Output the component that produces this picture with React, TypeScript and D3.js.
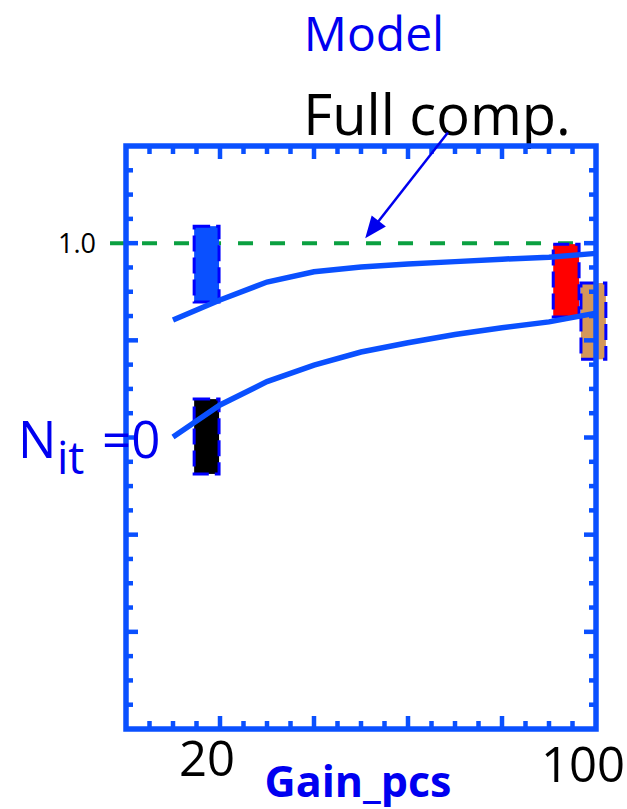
import React from "react";
import * as d3 from "d3";

// model curves, Gain_pcs on x
const gainPts = [10, 20, 30, 40, 50, 60, 70, 80, 90, 100];
const upperCurve = [0.842, 0.883, 0.92, 0.941, 0.951, 0.957, 0.962, 0.967, 0.971, 0.979];
const lowerCurve = [0.601, 0.667, 0.715, 0.749, 0.776, 0.795, 0.812, 0.826, 0.838, 0.856];

// measured ranges drawn as boxes
const boxX0 = [14.5, 14.5, 90.9, 96.8];
const boxX1 = [19.8, 19.8, 96.4, 102.1];
const boxLo = [0.879, 0.525, 0.848, 0.761];
const boxHi = [1.035, 0.679, 0.998, 0.918];
const boxFill = ["#0a50ff", "#000000", "#ff0000", "#d4975a"];

const fullComp = 1.0;
const fullCompRange = [-3.4, 95.1];
const arrowFrom = [68.5, 1.228];
const arrowTo = [50.9, 1.01];

const xLabels = [20, 100];
const yLabels = [1.0];

const W = 627;
const H = 809;
const axisBlue = "#0a50ff";

export default function App() {
  const x = d3.scaleLinear().domain([0, 100]).range([126, 596]);
  const y = d3.scaleLinear().domain([0, 1.2]).range([729, 146]);

  const line = d3
    .line<number>()
    .x((_, i) => x(gainPts[i]))
    .y((d) => y(d));

  const xMinor = d3.range(5, 100, 5);
  const yMinor = d3.range(0.05, 1.2, 0.05);
  const isMajX = (v: number) => Math.abs(v % 20) < 1e-6;
  const isMajY = (v: number) => Math.round(v * 100) % 20 === 0;

  const [x0, x1] = x.range();
  const [y0, y1] = y.range();

  const ax = x(arrowFrom[0]);
  const ay = y(arrowFrom[1]);
  const bx = x(arrowTo[0]);
  const by = y(arrowTo[1]);
  const ang = Math.atan2(by - ay, bx - ax);
  const hl = 22;
  const hw = 9;
  const head = [
    [bx, by],
    [bx - hl * Math.cos(ang) + hw * Math.sin(ang), by - hl * Math.sin(ang) - hw * Math.cos(ang)],
    [bx - hl * Math.cos(ang) - hw * Math.sin(ang), by - hl * Math.sin(ang) + hw * Math.cos(ang)],
  ];

  return (
    <svg
      width={W}
      height={H}
      style={{ position: "absolute", left: 0, top: 0, background: "#fff" }}
      fontFamily="'Open Sans', sans-serif"
    >
      {/* titles */}
      <text x={374} y={51} fontSize={48} fill="#0000f0" textAnchor="middle">
        Model
      </text>
      <text x={437} y={135} fontSize={56} fill="#000" textAnchor="middle">
        Full comp.
      </text>

      {/* full compensation line */}
      <line
        x1={x(fullCompRange[0])}
        x2={x(fullCompRange[1])}
        y1={y(fullComp)}
        y2={y(fullComp)}
        stroke="#0aa040"
        strokeWidth={4}
        strokeDasharray="15 17"
      />

      {/* boxes */}
      {boxFill.map((c, i) => (
        <g key={i}>
          <rect
            x={x(boxX0[i])}
            width={x(boxX1[i]) - x(boxX0[i])}
            y={y(boxHi[i])}
            height={y(boxLo[i]) - y(boxHi[i])}
            fill={c}
          />
          <rect
            x={x(boxX0[i])}
            width={x(boxX1[i]) - x(boxX0[i])}
            y={y(boxHi[i])}
            height={y(boxLo[i]) - y(boxHi[i])}
            fill="none"
            stroke="#0000ff"
            strokeWidth={3}
            strokeDasharray="16 6"
          />
        </g>
      ))}

      {/* model curves */}
      <path d={line(upperCurve) || ""} fill="none" stroke={axisBlue} strokeWidth={5.5} />
      <path d={line(lowerCurve) || ""} fill="none" stroke={axisBlue} strokeWidth={5.5} />

      {/* frame + ticks */}
      <rect x={x0} y={y1} width={x1 - x0} height={y0 - y1} fill="none" stroke={axisBlue} strokeWidth={5.5} />
      {xMinor.map((v) => {
        const len = isMajX(v) ? 13 : 8;
        return (
          <g key={"x" + v} stroke={axisBlue} strokeWidth={4.5}>
            <line x1={x(v)} x2={x(v)} y1={y0} y2={y0 - len} />
            <line x1={x(v)} x2={x(v)} y1={y1} y2={y1 + len} />
          </g>
        );
      })}
      {yMinor.map((v) => {
        const len = isMajY(v) ? 12 : 7;
        return (
          <g key={"y" + v} stroke={axisBlue} strokeWidth={4.5}>
            <line x1={x0} x2={x0 + len} y1={y(v)} y2={y(v)} />
            <line x1={x1} x2={x1 - len} y1={y(v)} y2={y(v)} />
          </g>
        );
      })}

      {/* arrow */}
      <line x1={ax} y1={ay} x2={head[0][0] - 12 * Math.cos(ang)} y2={head[0][1] - 12 * Math.sin(ang)} stroke="#0000ee" strokeWidth={2.5} />
      <polygon points={head.map((p) => p.join(",")).join(" ")} fill="#0000ee" />

      {/* tick labels */}
      {yLabels.map((v) => (
        <text key={v} x={77} y={y(v) + 10} fontSize={27} textAnchor="middle" fill="#000">
          {v.toFixed(1)}
        </text>
      ))}
      {xLabels.map((v) => (
        <text key={v} x={x(v) - 13} y={v === 100 ? 782 : 776} fontSize={49} textAnchor="middle" fill="#000">
          {v}
        </text>
      ))}
      <text x={358} y={797} fontSize={43} fontWeight="bold" textAnchor="middle" fill="#0000f0">
        Gain_pcs
      </text>

      {/* N_it = 0 label */}
      <text x={18} y={458} fontSize={51} fill="#0000f0">
        N
        <tspan x={57} y={474} fontSize={45}>
          it
        </tspan>
        <tspan x={102} y={458}>
          =0
        </tspan>
      </text>
    </svg>
  );
}
